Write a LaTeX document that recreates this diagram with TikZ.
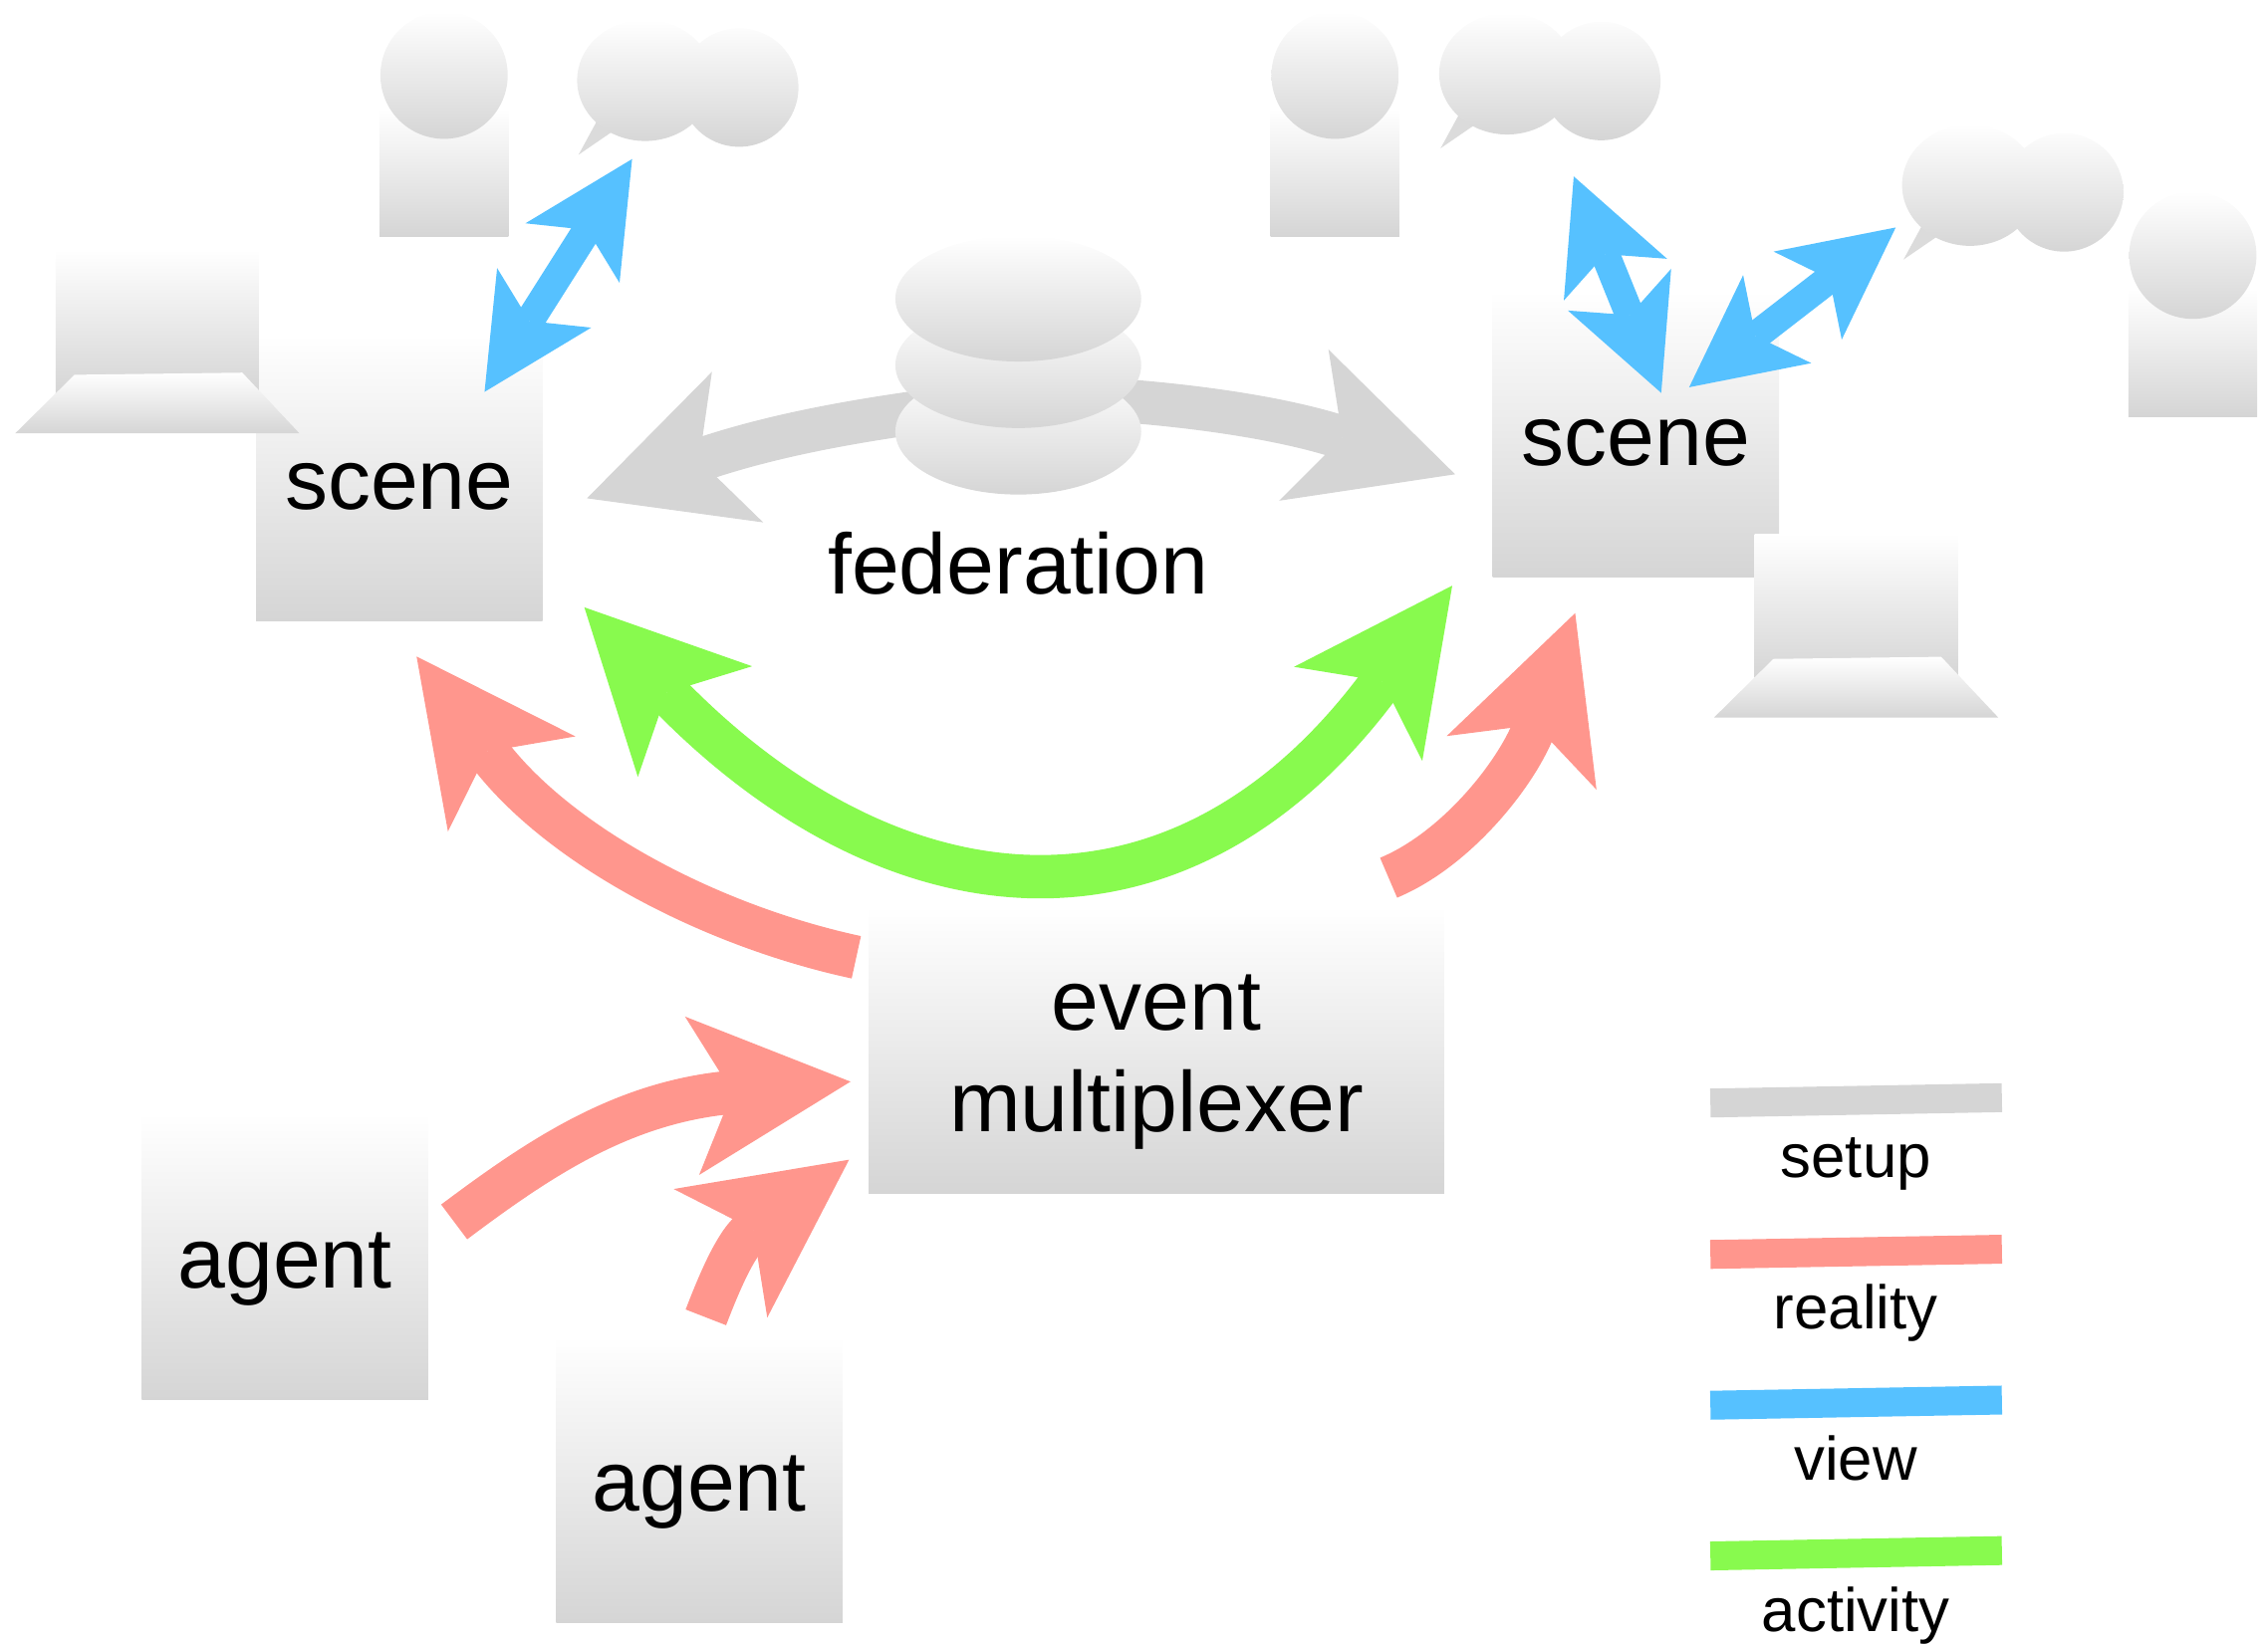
\documentclass[tikz,border=0pt]{standalone}
\usepackage{fontspec}
\setmainfont{Liberation Sans}
\usetikzlibrary{arrows.meta,shapes.geometric}
\definecolor{shadeg}{HTML}{D5D5D5}
\definecolor{setupc}{HTML}{D5D5D5}
\definecolor{realc}{HTML}{FF968D}
\definecolor{viewc}{HTML}{56C1FF}
\definecolor{actc}{HTML}{88FA4E}
\tikzset{
  x=0.02cm,y=-0.02cm,
  grad/.style={top color=white,bottom color=shadeg,draw=none},
  bigtext/.style={font=\fontsize{33.7}{40}\selectfont,text=black},
  box/.style={grad,bigtext,rectangle,inner sep=0pt,minimum width=3.96cm,minimum height=3.96cm,text height=25pt,text depth=0pt},
  dbdisc/.style={grad,ellipse,inner sep=0pt,minimum width=3.4cm,minimum height=1.74cm},
  legtext/.style={font=\fontsize{24.2}{29}\selectfont,text=black,anchor=base,inner sep=0pt},
  bigtip/.tip={Stealth[length=2.2cm,width=2.2cm,inset=.56cm,line width=0pt]},
  smalltip/.tip={Stealth[length=1.54cm,width=1.54cm,inset=.38cm,line width=0pt]},
  setupline/.style={draw=setupc,line width=.6cm},
  realline/.style={draw=realc,line width=.6cm},
  actline/.style={draw=actc,line width=.6cm},
  viewline/.style={draw=viewc,line width=.4cm},
  legline/.style={line width=.4cm},
}
\newcommand{\person}[2]{%
  \path[grad] (#1-44.5,#2+23) rectangle (#1+44.5,#2+111.5);
  \path[grad] (#1,#2) circle[radius=44];
}
\newcommand{\bubble}[2]{%
  \fill[shadeg!85!white] (#1-33.5,#2+28.5) -- (#1-46,#2+51.5) -- (#1-23.4,#2+36) -- (#1-10,#2+20) -- cycle;
  \path[grad] (#1,#2) ellipse[x radius=47,y radius=42] (#1+65,#2+5) circle[radius=41];
}
\newcommand{\laptop}[2]{%
  \path[grad] (#1+28,#2-127) rectangle (#1+168.5,#2-27.5);
  \path[grad] (#1,#2) -- (#1+196.5,#2) -- (#1+157,#2-42) -- (#1+41,#2-40.5) -- cycle;
}
\begin{document}
\begin{tikzpicture}
\useasboundingbox (0,0) rectangle (1568,1136.9);
% boxes
\node[box] (scene1) at (276,330.5) {scene};
\node[box] (scene2) at (1131,300) {scene};
\node[box,minimum width=7.96cm,text height=64.2pt,text depth=0pt,align=center] (mux) at (799.5,726) {event\\multiplexer};
\node[box] (agent1) at (197,869) {agent};
\node[box] (agent2) at (483.5,1023) {agent};
% icons
\laptop{10.5}{299.7}
\laptop{1185}{496.2}
\person{307}{52}
\person{923}{52}
\person{1516}{176.5}
\bubble{446}{55.5}
\bubble{1042}{51}
\bubble{1362}{128}
% setup arrows
\coordinate (setupL) at (405.8,344.6);
\coordinate (setupR) at (1006,328);
\coordinate (dbL) at (650,283);
\coordinate (dbR) at (760,276);
\draw[setupline,-bigtip] (dbL) .. controls (590,291) and (534,301) .. (setupL);
\draw[setupline,-bigtip] (dbR) .. controls (810,279) and (880,287) .. (setupR);
% database
\node[dbdisc] (db3) at (704,298.5) {};
\node[dbdisc] (db2) at (704,252.5) {};
\node[dbdisc] (db1) at (704,206.5) {};
\node[bigtext,anchor=base,inner sep=0pt] (fed) at (704,410.5) {federation};
% activity
\coordinate (actL) at (404,420);
\coordinate (actR) at (1004,405);
\draw[actline,bigtip-bigtip] (actL) .. controls (617,640) and (817,660) .. (actR);
% reality
\coordinate (r1s) at (592,662);
\coordinate (r1e) at (288,454);
\draw[realline,-bigtip] (r1s) .. controls (490,640) and (385,584) .. (r1e);
\coordinate (r2s) at (960,607);
\coordinate (r2e) at (1089,424);
\draw[realline,-bigtip] (r2s) .. controls (1008,587) and (1050,533) .. (r2e);
\coordinate (r3s) at (314,845);
\coordinate (r3e) at (588,748);
\draw[realline,-bigtip] (r3s) .. controls (374,800) and (431,762) .. (r3e);
\coordinate (r4s) at (488,911);
\coordinate (r4e) at (587,802);
\draw[realline,-bigtip] (r4s) .. controls (495,893) and (508,859.5) .. (r4e);
% view
\coordinate (v1a) at (437,110);
\coordinate (v1b) at (335,271);
\draw[viewline,smalltip-smalltip] (v1a) -- (v1b);
\coordinate (v2a) at (1088,122);
\coordinate (v2b) at (1148.5,271.7);
\draw[viewline,smalltip-smalltip] (v2a) -- (v2b);
\coordinate (v3a) at (1310.6,157.3);
\coordinate (v3b) at (1167.8,267.8);
\draw[viewline,smalltip-smalltip] (v3a) -- (v3b);
% legend
\coordinate (l1a) at (1182.5,762.8); \coordinate (l1b) at (1384,759.1);
\coordinate (l2a) at (1182.5,867.5); \coordinate (l2b) at (1384,863.9);
\coordinate (l3a) at (1182.5,971.8); \coordinate (l3b) at (1384,968.2);
\coordinate (l4a) at (1182.5,1076);  \coordinate (l4b) at (1384,1072.3);
\draw[legline,draw=setupc] (l1a) -- (l1b);
\draw[legline,draw=realc] (l2a) -- (l2b);
\draw[legline,draw=viewc] (l3a) -- (l3b);
\draw[legline,draw=actc] (l4a) -- (l4b);
\node[legtext] (tsetup) at (1283,814.4) {setup};
\node[legtext] (treal) at (1283,919) {reality};
\node[legtext] (tview) at (1283,1023.5) {view};
\node[legtext] (tact) at (1283,1128) {activity};
\end{tikzpicture}
\end{document}
